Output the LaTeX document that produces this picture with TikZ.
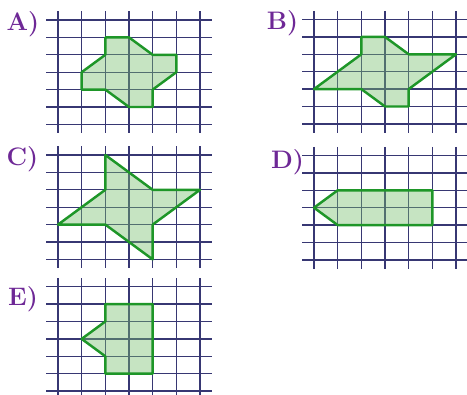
\documentclass[tikz,border=0pt]{standalone}
\usepackage{xcolor}
\usepackage{tikz}
\definecolor{grid_navy}{RGB}{55,55,115}
\definecolor{fig_green}{RGB}{30,150,40}
\definecolor{fig_fill}{RGB}{120,190,110}
\definecolor{lbl_purple}{RGB}{110,40,150}

\begin{document}
\begin{tikzpicture}[x=0.02cm, y=-0.02cm,
          cellgrid/.style={draw=grid_navy, line width=0.75pt},
          fig/.style={draw=fig_green, line width=1.4pt, line join=round,
                      fill=fig_fill, fill opacity=0.42},
          lbl/.style={text=lbl_purple, font=\Large\bfseries},
          panel/.style 2 args={shift={(#1,#2)}, xscale=23.67, yscale=17.4}]
        \useasboundingbox (0,0) rectangle (467,395);
        % grids
        \foreach \px/\py in {58/20, 314/19.5, 58/155, 314/155.5, 58/286.7} {
          \begin{scope}[panel={\px}{\py}]
            \foreach \i in {0,...,6} {
              \draw[cellgrid] (\i,-0.5) -- (\i,6.5);
              \draw[cellgrid] (-0.5,\i) -- (6.5,\i);
            }
          \end{scope}
        }
        % figures
        \begin{scope}[panel={58}{20}]
          \draw[fig] (2,1) -- (3,1) -- (4,2) -- (5,2) -- (5,3) -- (4,4) -- (4,5)
            -- (3,5) -- (2,4) -- (1,4) -- (1,3) -- (2,2) -- cycle;
        \end{scope}
        \begin{scope}[panel={314}{19.5}]
          \draw[fig] (2,1) -- (3,1) -- (4,2) -- (6,2) -- (4,4) -- (4,5)
            -- (3,5) -- (2,4) -- (0,4) -- (2,2) -- cycle;
        \end{scope}
        \begin{scope}[panel={58}{155}]
          \draw[fig] (2,0) -- (4,2) -- (6,2) -- (4,4) -- (4,6)
            -- (2,4) -- (0,4) -- (2,2) -- cycle;
        \end{scope}
        \begin{scope}[panel={314}{155.5}]
          \draw[fig] (1,2) -- (5,2) -- (5,4) -- (1,4) -- (0,3) -- cycle;
        \end{scope}
        \begin{scope}[panel={58}{286.7}]
          \draw[fig] (2,1) -- (4,1) -- (4,5) -- (2,5) -- (2,4) -- (1,3) -- (2,2) -- cycle;
        \end{scope}
        % labels
        \node[lbl] (labA) at (23, 24)    {A)};
        \node[lbl] (labB) at (282.5, 23) {B)};
        \node[lbl] (labC) at (22.5, 159) {C)};
        \node[lbl] (labD) at (287.5, 162) {D)};
        \node[lbl] (labE) at (23, 299)   {E)};
      \end{tikzpicture}
\end{document}
